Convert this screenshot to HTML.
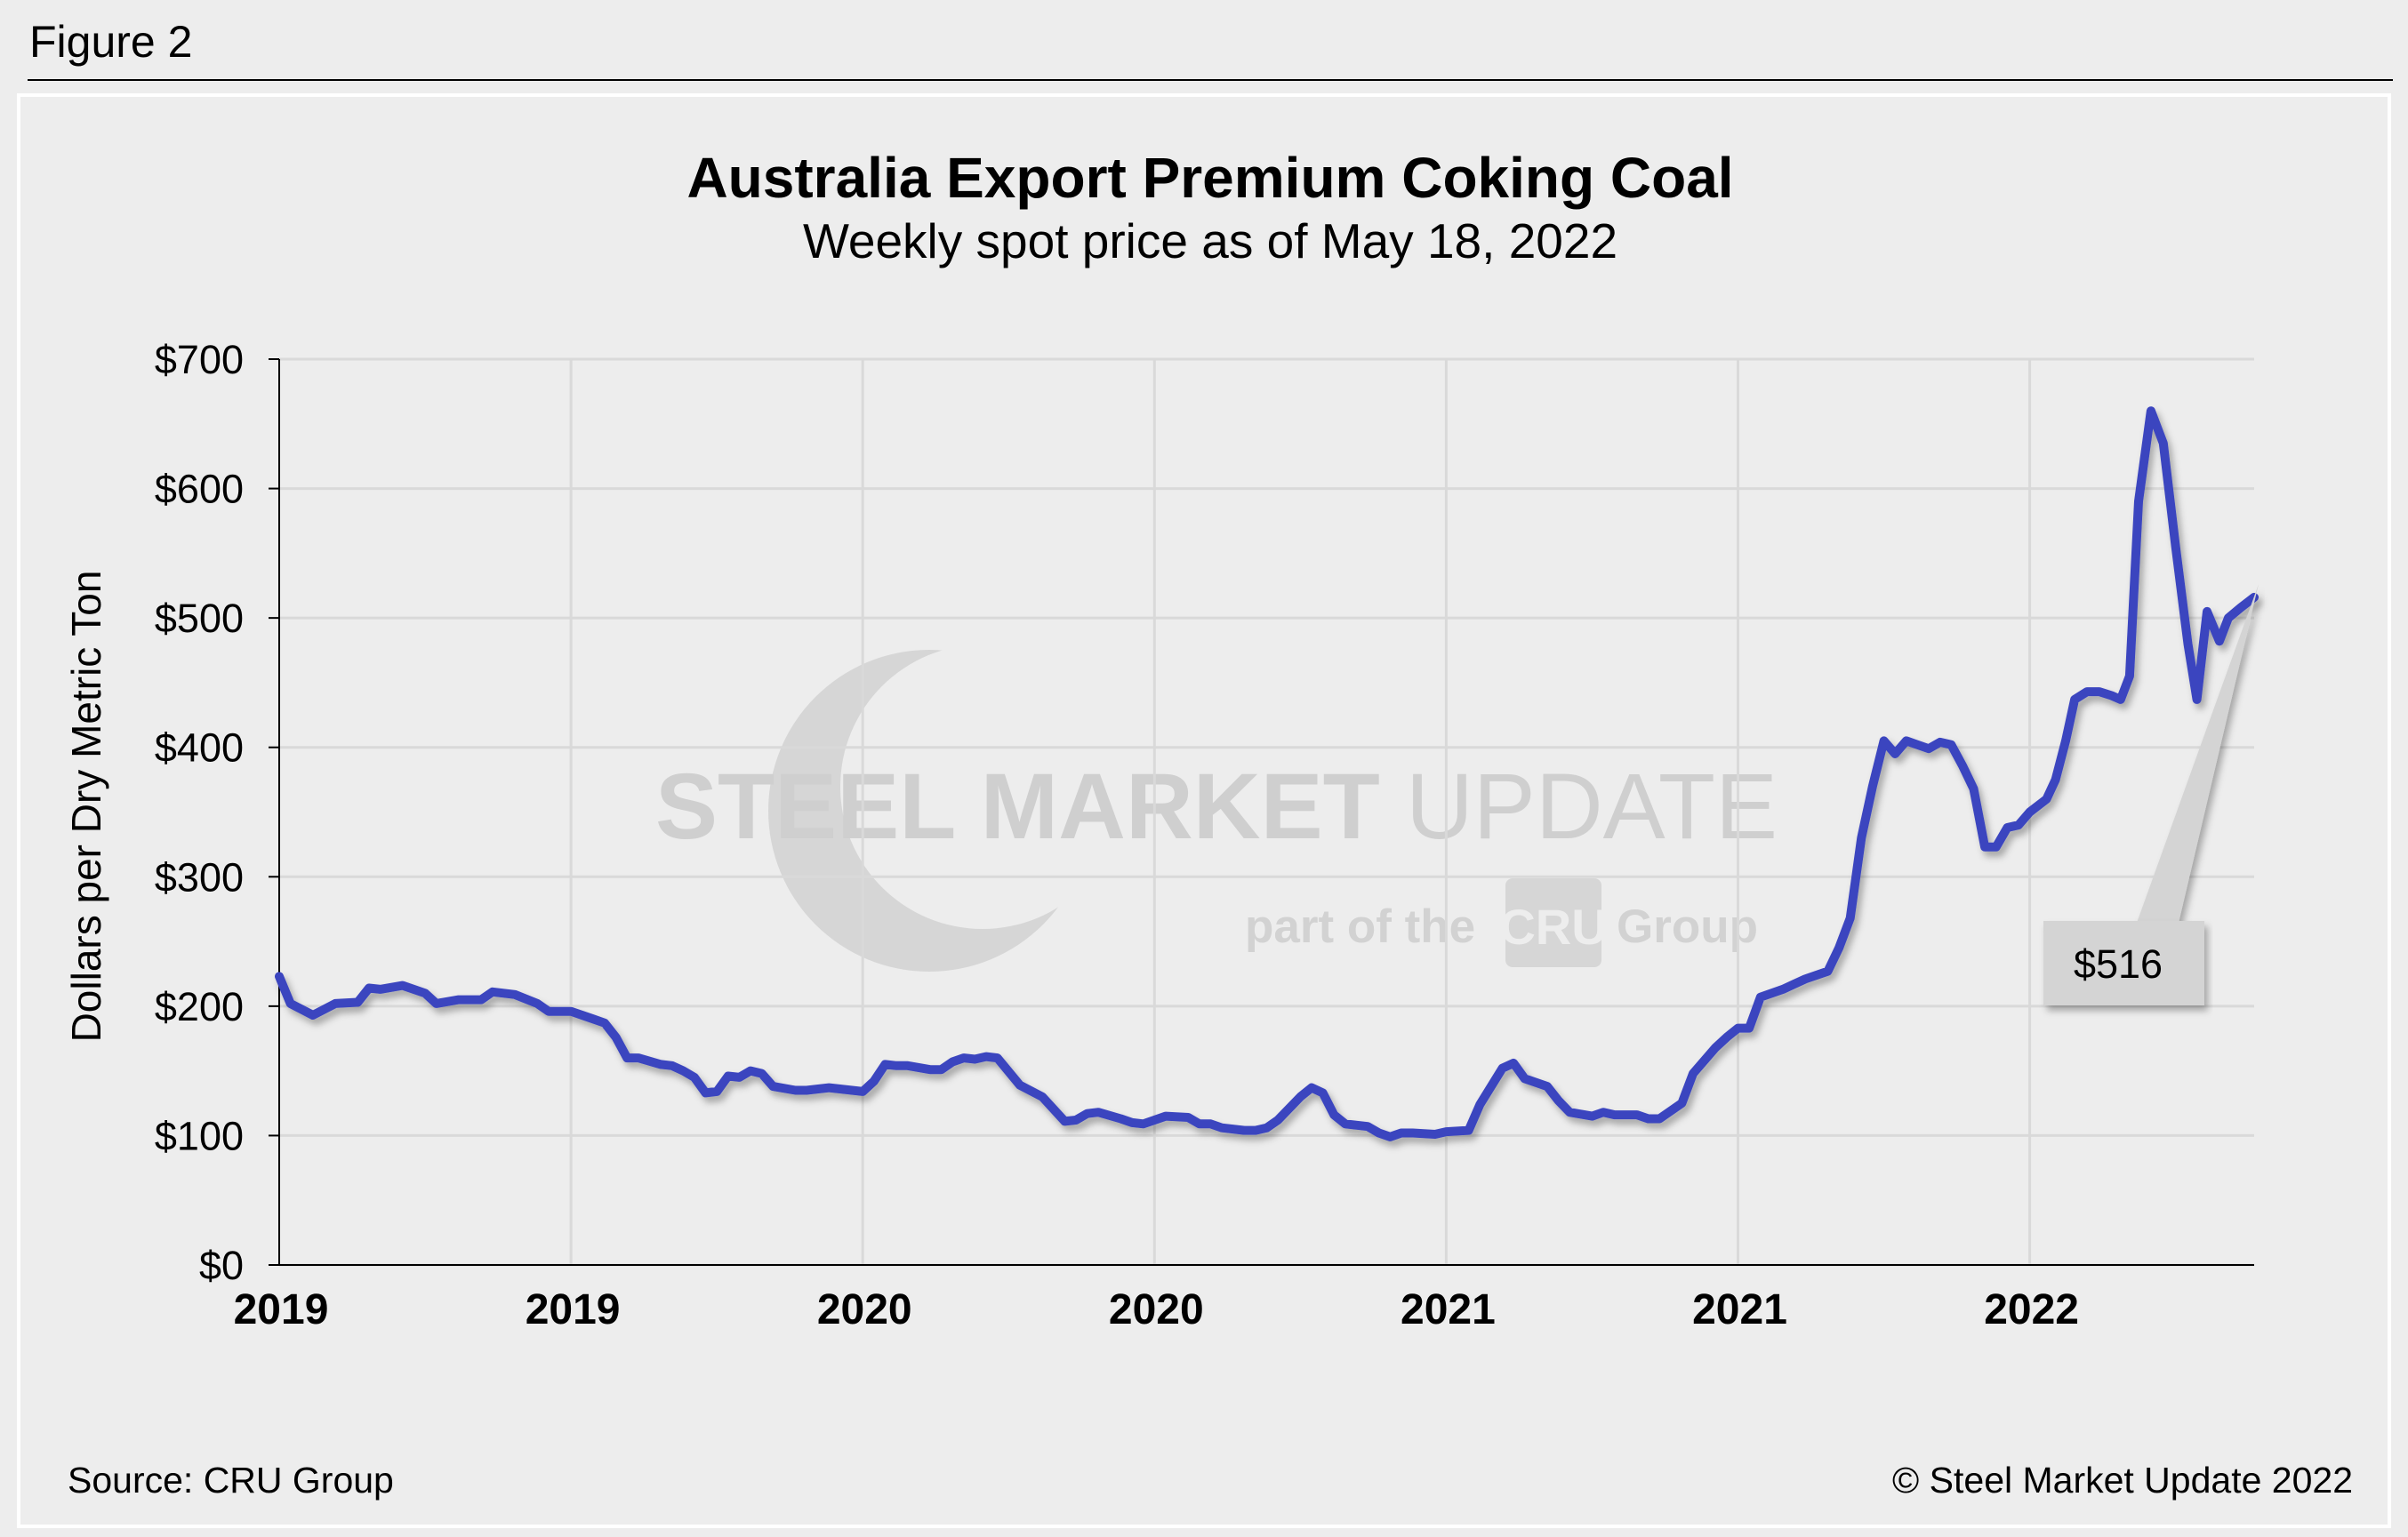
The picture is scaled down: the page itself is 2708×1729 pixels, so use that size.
<!DOCTYPE html>
<html><head><meta charset="utf-8"><style>
html,body{margin:0;padding:0;background:#ededed;}
svg{display:block;font-family:"Liberation Sans",Arial,sans-serif;}
</style></head><body>
<svg id="chart" width="2708" height="1729" viewBox="0 0 2708 1729">
<defs>
<filter id="sh" x="-5%" y="-5%" width="110%" height="120%"><feDropShadow dx="4" dy="6" stdDeviation="4" flood-color="#000" flood-opacity="0.3"/></filter>
<mask id="crescent"><rect x="0" y="0" width="2708" height="1729" fill="#fff"/><circle cx="1105" cy="885" r="160" fill="#000"/></mask>
</defs>
<rect x="0" y="0" width="2708" height="1729" fill="#ededed"/>
<text x="33" y="64" font-size="50" fill="#000">Figure 2</text>
<line x1="31" y1="90" x2="2691" y2="90" stroke="#000" stroke-width="2"/>
<rect x="21" y="107" width="2666" height="1610" fill="#ededed" stroke="#fff" stroke-width="4"/>
<text x="1361" y="222" font-size="64" font-weight="bold" text-anchor="middle">Australia Export Premium Coking Coal</text>
<text x="1361" y="290" font-size="55" text-anchor="middle">Weekly spot price as of May 18, 2022</text>
<g>
<circle cx="1045" cy="912" r="181" fill="#d6d6d6" mask="url(#crescent)"/>
<text x="737" y="943" font-size="105" font-weight="bold" fill="#cfcfcf">STEEL MARKET <tspan font-weight="normal">UPDATE</tspan></text>
<text x="1400" y="1060" font-size="53" font-weight="bold" fill="#d2d2d2">part of the </text>
<rect x="1693" y="988" width="108" height="100" rx="8" fill="#d6d6d6"/>
<text x="1747" y="1062" font-size="56" font-weight="bold" fill="#ededed" text-anchor="middle">CRU</text>
<text x="1818" y="1060" font-size="53" font-weight="bold" fill="#d2d2d2">Group</text>
</g>
<g id="grid"></g>
<g id="axes"></g>
<path id="series" fill="none" stroke="#3a44bf" stroke-width="10" stroke-linejoin="round" stroke-linecap="round" filter="url(#sh)"/>
<g>
<polygon points="2403,1038 2450,1038 2540,657" fill="#d4d4d4" filter="url(#sh)"/>
<rect x="2298" y="1036" width="181" height="95" fill="#d4d4d4" filter="url(#sh)"/>
<text id="calloutText" x="2382" y="1100" font-size="45" text-anchor="middle">$516</text>
</g>
<text x="0" y="0" font-size="46" text-anchor="middle" transform="translate(113,907) rotate(-90)">Dollars per Dry Metric Ton</text>
<text x="76" y="1679" font-size="41">Source: CRU Group</text>
<text x="2646" y="1679" font-size="41" text-anchor="end">© Steel Market Update 2022</text>
</svg>
<script>
const weeks=[0,1,3,5,7,8,9,11,13,14,16,18,19,21,23,24,26,28,29,30,31,32,34,35,36,37,38,39,40,41,42,43,44,46,47,49,52,53,54,55,56,58,59,60,61,62,63,64,66,68,70,71,72,73,75,76,77,78,79,81,82,83,84,86,87,88,89,91,92,93,94,95,97,98,99,100,101,103,104,106,107,109,110,111,113,114,115,117,118,119,121,122,123,125,126,128,129,130,131,132,134,135,136,138,139,140,141,142,143,144,145,146,147,148,149,150,151,152,153,154,155,156,157.5,158.3,159.2,160,161.1,162.2,163.3,164.1,164.9,165.7,166.8,167.9,169,170.1,170.9,171.8,172.9,173.7,174.8,176];
const prices=[223,202,193,202,203,214,213,216,210,202,205,205,211,209,202,196,196,190,187,176,160,160,155,154,150,145,133,134,146,145,150,148,138,135,135,137,134,142,155,154,154,151,151,157,160,159,161,160,139,130,111,112,117,118,113,110,109,112,115,114,109,109,106,104,104,106,112,130,137,133,116,109,107,102,99,102,102,101,103,104,124,152,156,144,138,127,118,115,118,116,116,113,113,125,148,168,176,183,183,207,213,217,221,227,245,268,330,370,405,395,405,402,399,404,402,386,368,323,323,338,340,350,360,375,405,437,443,443,440,437,455,590,660,635,555,480,437,505,482,500,508,516];
const yTicks=[0,100,200,300,400,500,600,700];
const yTickLabels=["$0","$100","$200","$300","$400","$500","$600","$700"];
const xTickWeeks=[0,26,52,78,104,130,156];
const xTickLabels=["2019","2019","2020","2020","2021","2021","2022"];
const L=314,R=2535,T=404,B=1423,WMAX=176,YMAX=700;
const xs=w=>L+(R-L)*w/WMAX;
const ys=v=>B-(B-T)*v/YMAX;
const NS="http://www.w3.org/2000/svg";
const grid=document.getElementById('grid'),axes=document.getElementById('axes');
function mk(tag,attrs,parent){const e=document.createElementNS(NS,tag);for(const k in attrs)e.setAttribute(k,attrs[k]);parent.appendChild(e);return e;}
yTicks.forEach((v,i)=>{
 const g=mk('line',{x1:L,x2:R,y1:ys(v),y2:ys(v),stroke:'#d9d9d9','stroke-width':3},grid);
 
 
 const tk=mk('line',{x1:L-12,x2:L,y1:ys(v),y2:ys(v),stroke:'#000','stroke-width':2},axes);
 
 
 const t=mk('text',{x:L-40,y:ys(v)+16,'font-size':45,'text-anchor':'end'},axes);
 t.textContent=yTickLabels[i];
 
 
});
xTickWeeks.forEach((w,i)=>{
 if(w>0){const g=mk('line',{x1:xs(w),x2:xs(w),y1:T,y2:B,stroke:'#d9d9d9','stroke-width':3},grid);
 
 }
 const t=mk('text',{x:xs(w)+2,y:1489,'font-size':48,'font-weight':'bold','text-anchor':'middle'},axes);
 t.textContent=xTickLabels[i];
 
 
});
const ya=mk('line',{x1:L,x2:L,y1:T,y2:B,stroke:'#000','stroke-width':2},axes);


const xa=mk('line',{x1:L,x2:R,y1:B,y2:B,stroke:'#000','stroke-width':2},axes);


document.getElementById('series').setAttribute('d',weeks.map((w,i)=>(i?'L':'M')+xs(w).toFixed(1)+' '+ys(prices[i]).toFixed(1)).join(' '));
document.getElementById('calloutText').textContent='$'+prices[prices.length-1];
</script>
</body></html>
